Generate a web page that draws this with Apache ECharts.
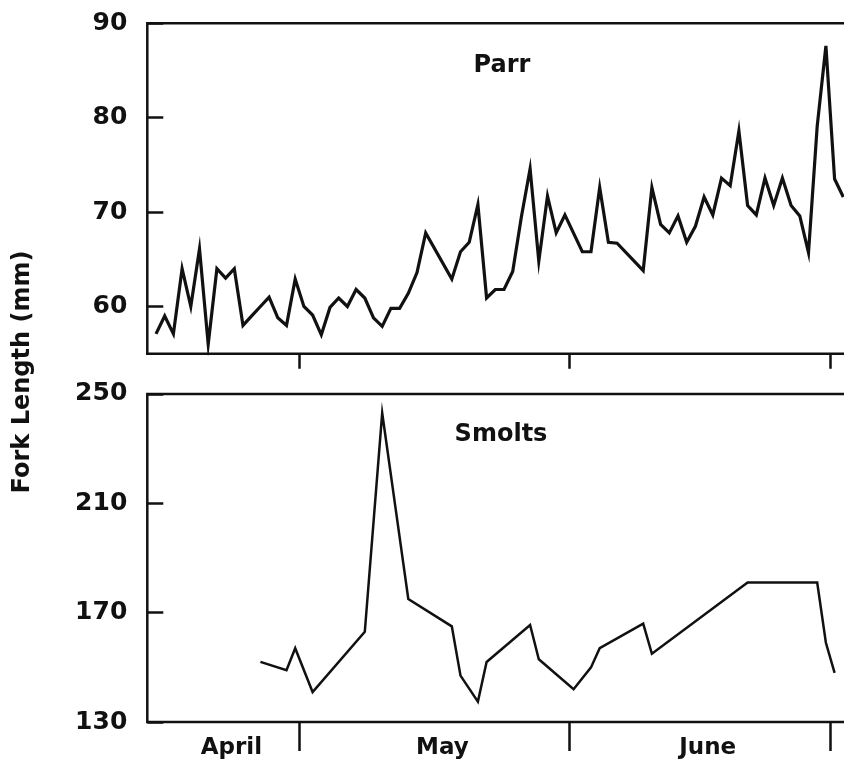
<!DOCTYPE html>
<html>
<head>
<meta charset="utf-8">
<title>Fork Length (mm)</title>
<script src="https://cdn.jsdelivr.net/npm/echarts@6/dist/echarts.min.js"></script>
<style>
  html, body { margin: 0; padding: 0; background: #ffffff; overflow: hidden; }
  /* the plot frames run on past the right edge of the window */
  #chart { width: 870px; height: 762px; }
</style>
</head>
<body>
<div id="chart"></div>
<script>
// Day numbers count from April 1 = 1 (May 1 = 31, June 1 = 62, July 1 = 92).
const parrDays = [14, 15, 16, 17, 18, 19, 20, 21, 22, 23, 24, 25, 26, 27, 28, 29, 30,
  31, 32, 33, 34, 35, 36, 37, 38, 39, 40, 41, 42, 43, 44, 45, 48, 49, 50, 51, 52, 53,
  54, 55, 56, 57, 58, 59, 60, 61, 63, 64, 65, 66, 67, 70, 71, 72, 73, 74, 75, 76, 77,
  78, 79, 80, 81, 82, 83, 84, 85, 86, 87, 88, 89, 90, 91, 92, 93];
const parrFL = [57.1, 59.0, 57.1, 64.0, 60.0, 66.1, 56.0, 64.0, 63.0, 64.0, 58.0, 59.0,
  60.0, 61.0, 58.8, 58.0, 62.9, 60.0, 59.1, 57.0, 59.9, 60.9, 60.0, 61.8, 60.9, 58.8,
  57.9, 59.8, 59.8, 61.4, 63.6, 67.8, 62.9, 65.8, 66.8, 70.8, 60.9, 61.8, 61.8, 63.7,
  69.5, 74.6, 64.8, 71.7, 67.8, 69.7, 65.8, 65.8, 72.6, 66.8, 66.7, 63.8, 72.6, 68.7,
  67.8, 69.6, 66.8, 68.5, 71.6, 69.7, 73.6, 72.8, 78.6, 70.7, 69.7, 73.6, 70.7, 73.6,
  70.7, 69.6, 65.7, 79.1, 87.6, 73.5, 71.6];

const smoltDays = [26, 29, 30, 32, 38, 40, 43, 48, 49, 51, 52, 57, 58, 62, 64, 65, 70,
  71, 82, 90, 91, 92];
const smoltFL = [152, 149, 157, 141, 163, 243, 175, 165, 147, 137.5, 152, 165.5, 153,
  142, 150, 157, 166, 155, 181, 181, 159, 148];

const months = ['April', 'May', 'June'];
const monthLengths = [30, 31, 30];
const parrTicks = [60, 70, 80, 90];
const smoltTicks = [130, 170, 210, 250];

// x range shown (in day numbers)
const X_MIN = 13, X_MAX = 94;

// month boundaries fall between the last day of one month and the first of the next
let acc = 0;
const monthEnds = monthLengths.map(n => (acc += n) + 0.5);
const monthStarts = [X_MIN].concat(monthEnds.slice(0, -1));
const monthMids = monthStarts.map((s, i) => (s + monthEnds[i]) / 2);

const INK = '#111111';
const FONT = '"DejaVu Sans", "Liberation Sans", Arial, sans-serif';

function pairs(xs, ys) { return xs.map((x, i) => [x, ys[i]]); }

const chart = echarts.init(document.getElementById('chart'), null, { renderer: 'canvas' });

const gridCommon = {
  left: 147.3,
  width: 704.7,
  show: true,
  borderColor: INK,
  borderWidth: 2.5,
  backgroundColor: 'transparent',
  containLabel: false
};

const yLabel = {
  show: true, color: INK, fontFamily: FONT, fontWeight: 'bold', fontSize: 25, margin: 20
};

chart.setOption({
  animation: false,
  backgroundColor: '#ffffff',
  grid: [
    Object.assign({ top: 23.3, height: 330.4 }, gridCommon),
    Object.assign({ top: 393.9, height: 328.2 }, gridCommon)
  ],
  xAxis: [
    {
      type: 'value', gridIndex: 0, min: X_MIN, max: X_MAX,
      axisLine: { show: false },
      splitLine: { show: false },
      axisTick: { show: true, inside: false, length: 15, customValues: monthEnds,
        lineStyle: { color: INK, width: 2.5 } },
      axisLabel: { show: false }
    },
    {
      type: 'value', gridIndex: 1, min: X_MIN, max: X_MAX,
      axisLine: { show: false },
      splitLine: { show: false },
      axisTick: { show: true, inside: false, length: 29, customValues: monthEnds,
        lineStyle: { color: INK, width: 2.5 } },
      axisLabel: {
        show: true, customValues: monthMids, color: INK, fontFamily: FONT,
        fontWeight: 'bold', fontSize: 23, lineHeight: 24, margin: 14,
        padding: [0, 0, 0, 16],
        formatter: v => {
          let best = 0;
          monthMids.forEach((m, i) => { if (Math.abs(m - v) < Math.abs(monthMids[best] - v)) best = i; });
          return months[best];
        }
      }
    }
  ],
  yAxis: [
    {
      type: 'value', gridIndex: 0, min: 55, max: 90,
      axisLine: { show: false },
      splitLine: { show: false },
      axisTick: { show: true, inside: true, length: 16, customValues: parrTicks,
        lineStyle: { color: INK, width: 2.5 } },
      axisLabel: Object.assign({ customValues: parrTicks }, yLabel)
    },
    {
      type: 'value', gridIndex: 1, min: 130, max: 250, interval: 40,
      axisLine: { show: false },
      splitLine: { show: false },
      axisTick: { show: true, inside: true, length: 16,
        lineStyle: { color: INK, width: 2.5 } },
      axisLabel: Object.assign({ customValues: smoltTicks }, yLabel)
    }
  ],
  series: [
    {
      name: 'Parr', type: 'line', xAxisIndex: 0, yAxisIndex: 0,
      data: pairs(parrDays, parrFL),
      showSymbol: false, symbol: 'none', smooth: false,
      lineStyle: { color: INK, width: 3.2, join: 'miter' },
      clip: true
    },
    {
      name: 'Smolts', type: 'line', xAxisIndex: 1, yAxisIndex: 1,
      data: pairs(smoltDays, smoltFL),
      showSymbol: false, symbol: 'none', smooth: false,
      lineStyle: { color: INK, width: 2.5, join: 'miter' },
      clip: true
    }
  ],
  graphic: [
    {
      type: 'text', x: 23, y: 372, rotation: Math.PI / 2,
      style: { text: 'Fork Length (mm)', fill: INK, font: 'bold 24px ' + FONT,
        align: 'center', verticalAlign: 'middle' }
    },
    {
      type: 'text', x: 502, y: 66,
      style: { text: 'Parr', fill: INK, font: 'bold 24px ' + FONT,
        align: 'center', verticalAlign: 'middle' }
    },
    {
      type: 'text', x: 501, y: 435,
      style: { text: 'Smolts', fill: INK, font: 'bold 24px ' + FONT,
        align: 'center', verticalAlign: 'middle' }
    }
  ]
});
</script>
</body>
</html>
